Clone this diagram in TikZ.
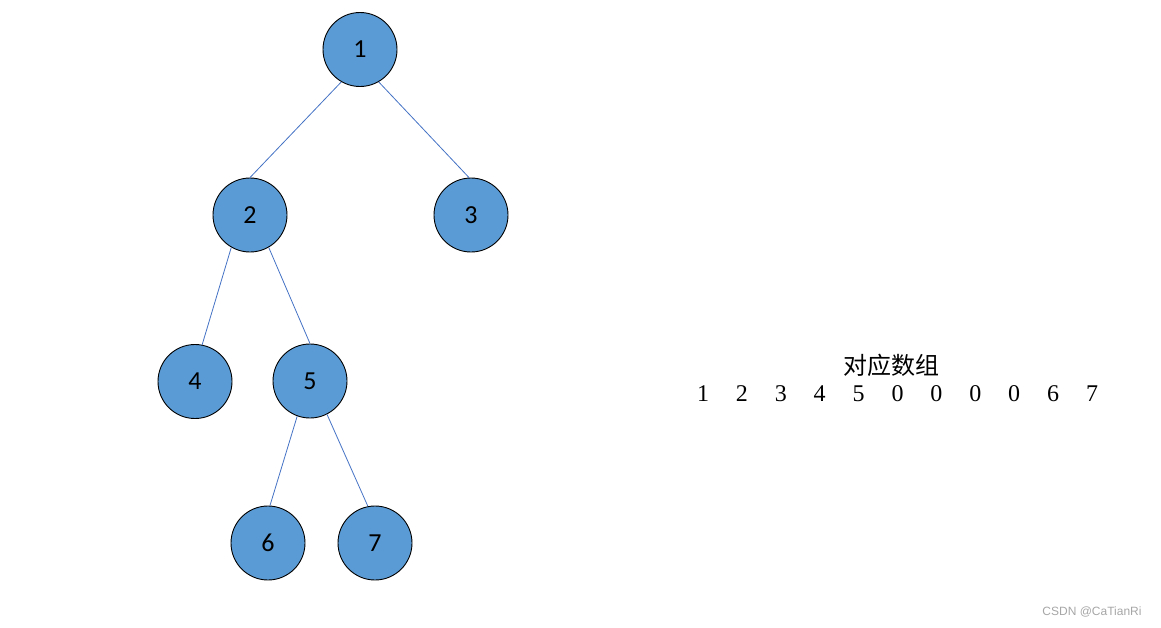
\documentclass[tikz,border=0pt]{standalone}
\usepackage{fontspec}
\newfontfamily\nodefont{Carlito}
\newfontfamily\cjk{Noto Sans CJK SC}
\newfontfamily\serifnum{Liberation Serif}
\newfontfamily\wmfont{Liberation Sans}
\definecolor{nodeblue}{HTML}{5B9BD5}
\definecolor{edgeblue}{HTML}{4472C4}
\tikzset{
  treenode/.style={circle, draw=black, line width=0.9pt, fill=nodeblue, minimum size=74pt, inner sep=0pt, font=\nodefont\fontsize{26}{26}\selectfont},
  treeedge/.style={draw=edgeblue, line width=0.8pt},
  arrnum/.style={font=\serifnum\fontsize{24}{24}\selectfont, inner sep=0pt, anchor=base},
}
\begin{document}
\begin{tikzpicture}[x=1pt,y=-1pt]
\useasboundingbox (0,0) rectangle (1161,627);
\node[treenode] (n1) at (360,49.5) {1};
\node[treenode] (n2) at (250,215) {2};
\node[treenode] (n3) at (471,215) {3};
\node[treenode] (n4) at (195,381.5) {4};
\node[treenode] (n5) at (310,381) {5};
\node[treenode] (n6) at (268,543) {6};
\node[treenode] (n7) at (375,543) {7};
\draw[treeedge] (n1.240) -- (n2.north);
\draw[treeedge] (n1.300) -- (n3.93);
\draw[treeedge] (n2.240) -- (n4.79);
\draw[treeedge] (n2.300) -- (n5.north);
\draw[treeedge] (n5.250) -- (n6.87);
\draw[treeedge] (n5.297) -- (n7.101);
\node[font=\cjk\fontsize{24}{24}\selectfont, inner sep=0pt] (title) at (891,365) {对应数组};
\foreach \v [count=\i] in {1,2,3,4,5,0,0,0,0,6,7} {
  \node[arrnum] (a\i) at ({703+38.9*(\i-1)},401.5) {\v};
}
\node[font=\wmfont\fontsize{12}{12}\selectfont, text=black!35, inner sep=0pt] (wm) at (1092,612) {CSDN @CaTianRi};
\end{tikzpicture}
\end{document}
